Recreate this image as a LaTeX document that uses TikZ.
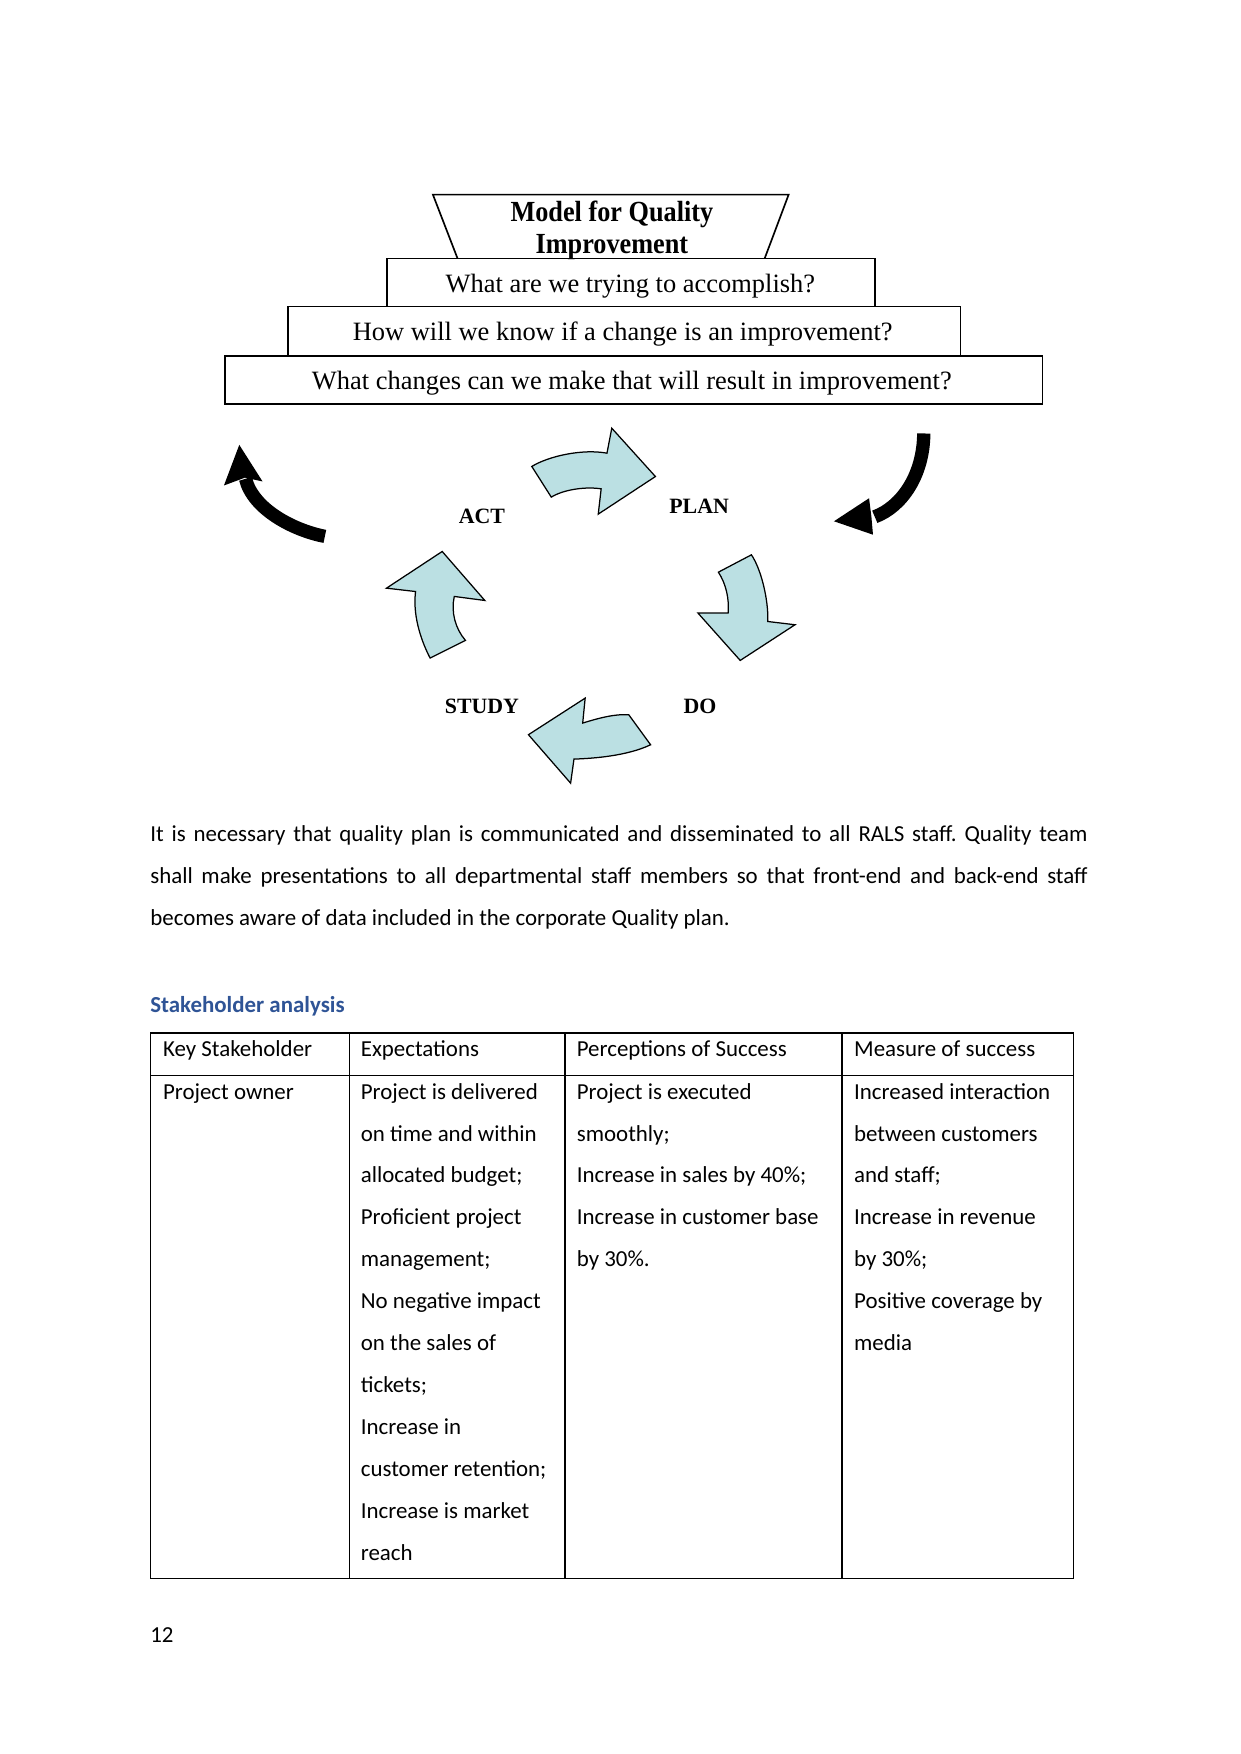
\documentclass[tikz,border=0pt]{standalone}
\usepackage{fontspec}
\setmainfont{Carlito}
\newfontfamily\tnr{Liberation Serif}
\usepackage{graphicx}
\definecolor{cyc}{RGB}{187,224,227}
\definecolor{headblue}{RGB}{47,84,150}
\frenchspacing
\begin{document}
\begin{tikzpicture}[x=0.53713pt,y=-0.53713pt,
  qbox/.style={draw=black,line width=0.8pt},
  qtext/.style={font=\tnr\fontsize{12.7}{14}\selectfont,anchor=base,inner sep=0pt},
  ttext/.style={font=\tnr\bfseries\fontsize{14}{16}\selectfont,anchor=base,inner sep=0pt},
  cyclab/.style={font=\tnr\bfseries\fontsize{10.5}{12}\selectfont,inner sep=0pt,anchor=center},
  blockarrow/.style={fill=cyc,draw=black,line width=0.6pt,line join=miter},
  blackshaft/.style={draw=black,line width=6.4pt},
  bodytext/.style={font=\fontsize{11}{13}\selectfont,anchor=base west,inner sep=0pt},
  tline/.style={line width=0.6pt}]
\useasboundingbox[fill=white] (0,0) rectangle (1109,1568);

% ---- title trapezoid and question boxes
\draw[qbox] (409,231) -- (387,174) -- (705,174) -- (683.6,231);
\node[ttext] (t1) at (547,198) {\scalebox{0.9}[1]{Model for Quality}};
\node[ttext] (t2) at (547,226.5) {\scalebox{0.9}[1]{Improvement}};
\draw[qbox] (346,231) rectangle (782,274);
\draw[qbox] (257.5,274) rectangle (858.6,318);
\draw[qbox] (201,318) rectangle (932,361);
\node[qtext] (q1) at (563.5,261.5) {What are we trying to accomplish?};
\node[qtext] (q2) at (556.7,304.5) {How will we know if a change is an improvement?};
\node[qtext] (q3) at (564.8,348.5) {What changes can we make that will result in improvement?};

% ---- cycle labels
\node[cyclab] (act) at (430.8,461.7) {ACT};
\node[cyclab] (plan) at (625,452.8) {PLAN};
\node[cyclab] (study) at (430.8,631.5) {STUDY};
\node[cyclab] (do) at (625.8,631.5) {DO};

% ---- block arrows
% ACT -> PLAN
\draw[blockarrow] (475.4,417.0) .. controls (490,408) and (520,401) .. (542.6,405.1)
  -- (546.9,382.8) -- (585.9,426.0) -- (534.8,459.6) -- (537.4,437.0)
  .. controls (525,435) and (505,437) .. (492.8,444.4) -- cycle;
% PLAN -> DO
\draw[blockarrow] (671.7,496.0) .. controls (680,508) and (687,535) .. (686.4,555.6)
  -- (710.7,558.5) -- (661.7,590.4) -- (624.0,548.1) -- (650.9,548.1)
  .. controls (652,535) and (649,522) .. (642.2,511.5) -- cycle;
% DO -> STUDY
\draw[blockarrow] (581.6,665.8) .. controls (560,676) and (530,678) .. (513.1,678.6)
  -- (510.1,700.1) -- (472.4,656.8) -- (523.1,624.1) -- (520.9,646.4)
  .. controls (535,642) and (550,638) .. (562.1,639.0) -- cycle;
% STUDY -> ACT
\draw[blockarrow] (384.5,588.3) .. controls (375,570) and (369,548) .. (371.5,528.8)
  -- (345.5,525.8) -- (395.3,493.0) -- (433.4,536.8) -- (406.1,533.2)
  .. controls (403,547) and (407,562) .. (416.1,572.5) -- cycle;

% ---- black curved arrows
\draw[blackshaft] (290.4,479.5) .. controls (262,474) and (226,455) .. (219.5,428);
\fill[black] (200.2,434) -- (213.9,397.7) -- (234.7,430.4) -- (219,427) -- cycle;
\draw[blackshaft] (825.8,387.5) .. controls (825.5,425) and (806,453) .. (782,462);
\fill[black] (776.9,445.4) -- (745.5,466) -- (780.4,478) -- (779,462) -- cycle;

% ---- paragraph
\node[bodytext] (p1) at (134,752.5) {\makebox[450.1pt][s]{It is necessary that quality plan is communicated and disseminated to all RALS staff. Quality team}};
\node[bodytext] (p2) at (134,790) {\makebox[450.1pt][s]{shall make presentations to all departmental staff members so that front-end and back-end staff}};
\node[bodytext] (p3) at (134,827.5) {becomes aware of data included in the corporate Quality plan.};

% ---- heading
\node[bodytext,font=\bfseries\fontsize{11}{13}\selectfont,text=headblue] (h) at (134,905.5) {Stakeholder analysis};

% ---- table
\draw[tline] (134.4,923.4) rectangle (959.7,1411.1);
\draw[tline] (134.4,961.6) -- (959.7,961.6);
\draw[tline] (312.2,923.4) -- (312.2,1411.1);
\draw[tline,line width=0.8pt] (504.9,923.4) -- (504.9,1411.1);
\draw[tline] (752.8,923.4) -- (752.8,1411.1);

\node[bodytext] (h1) at (145.4,944.7) {Key Stakeholder};
\node[bodytext] (h2) at (322.2,944.7) {Expectations};
\node[bodytext] (h3) at (515.3,944.7) {Perceptions of Success};
\node[bodytext] (h4) at (763.2,944.7) {Measure of success};

\node[bodytext] (c1) at (145.4,982.5) {Project owner};
\foreach \t [count=\i] in {{Project is delivered},{on time and within},{allocated budget;},{Proficient project},{management;},{No negative impact},{on the sales of},{tickets;},{Increase in},{customer retention;},{Increase is market},{reach}}
  \node[bodytext] (e\i) at (322.2,{982.5+37.5*(\i-1)}) {\t};
\foreach \t [count=\i] in {{Project is executed},{smoothly;},{Increase in sales by 40\%;},{Increase in customer base},{by 30\%.}}
  \node[bodytext] (s\i) at (515.3,{982.5+37.5*(\i-1)}) {\t};
\foreach \t [count=\i] in {{Increased interaction},{between customers},{and staff;},{Increase in revenue},{by 30\%;},{Positive coverage by},{media}}
  \node[bodytext] (m\i) at (763.2,{982.5+37.5*(\i-1)}) {\t};

% ---- page number
\node[bodytext] (pg) at (134,1468) {12};
\end{tikzpicture}
\end{document}
